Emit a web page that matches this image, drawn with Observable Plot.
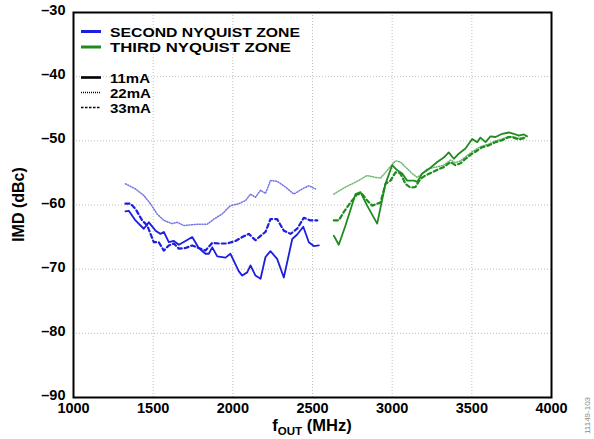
<!DOCTYPE html>
<html><head><meta charset="utf-8">
<script src="https://cdn.jsdelivr.net/npm/d3@7"></script>
<script src="https://cdn.jsdelivr.net/npm/@observablehq/plot@0.6"></script>
<style>
body{margin:0;background:#fff;}
#wrap{position:relative;width:594px;height:439px;}
</style></head><body><div id="wrap"></div>
<script>
// ---- data: [fOUT (MHz), IMD (dBc)] ----
const second11mA = [[1326,-61.0],[1347,-60.9],[1389,-62.4],[1441,-63.7],[1473,-62.7],[1515,-64.0],[1546,-64.5],[1567,-64.2],[1598,-65.8],[1630,-65.6],[1661,-66.2],[1703,-65.6],[1745,-65.0],[1786,-66.7],[1828,-67.6],[1849,-67.6],[1871,-66.6],[1902,-68.0],[1954,-68.2],[1985,-67.6],[2037,-70.3],[2059,-71.0],[2090,-70.5],[2111,-69.4],[2142,-71.0],[2174,-71.5],[2205,-68.1],[2236,-67.2],[2278,-68.4],[2320,-71.3],[2373,-65.3],[2404,-64.6],[2442,-63.4],[2477,-65.8],[2508,-66.4],[2540,-66.3]];
const second22mA = [[1326,-56.7],[1389,-57.5],[1441,-58.5],[1483,-59.8],[1525,-61.4],[1567,-62.4],[1619,-62.9],[1651,-62.7],[1692,-63.2],[1776,-63.0],[1839,-63.0],[1881,-62.2],[1933,-61.4],[1985,-60.1],[2037,-59.8],[2080,-59.3],[2111,-58.3],[2142,-58.8],[2174,-57.7],[2205,-58.2],[2236,-56.2],[2278,-56.3],[2331,-57.2],[2383,-58.3],[2435,-57.5],[2477,-57.0],[2519,-57.5]];
const second33mA = [[1326,-59.8],[1358,-59.8],[1389,-60.6],[1431,-62.4],[1463,-63.2],[1504,-65.8],[1535,-65.8],[1567,-67.1],[1598,-66.3],[1630,-66.0],[1661,-66.8],[1703,-66.7],[1745,-66.3],[1786,-66.7],[1828,-67.1],[1871,-65.9],[1912,-66.0],[1965,-66.0],[2017,-65.6],[2059,-65.0],[2100,-64.5],[2142,-65.5],[2174,-64.8],[2205,-64.2],[2236,-62.2],[2278,-62.2],[2320,-64.0],[2362,-64.5],[2404,-63.7],[2445,-62.0],[2487,-62.4],[2530,-62.4]];
const third11mA = [[2634,-64.8],[2665,-66.2],[2707,-63.2],[2770,-58.3],[2801,-58.0],[2843,-60.1],[2906,-62.9],[2958,-56.7],[3000,-53.8],[3032,-54.6],[3063,-55.1],[3094,-56.2],[3136,-56.2],[3157,-56.4],[3189,-55.1],[3230,-54.4],[3283,-53.3],[3324,-52.6],[3355,-51.8],[3387,-52.8],[3418,-52.0],[3460,-51.2],[3502,-49.7],[3534,-50.2],[3554,-49.5],[3586,-50.2],[3617,-49.3],[3649,-49.4],[3691,-48.9],[3732,-48.7],[3763,-48.9],[3795,-49.2],[3826,-49.0],[3847,-49.3]];
const third22mA = [[2634,-58.3],[2707,-57.2],[2749,-56.7],[2789,-56.2],[2843,-55.4],[2895,-55.7],[2927,-55.8],[2969,-54.6],[3021,-53.1],[3052,-53.3],[3084,-54.1],[3126,-55.1],[3157,-55.7],[3189,-55.1],[3220,-54.4],[3272,-54.1],[3324,-53.8],[3366,-53.0],[3397,-53.4],[3429,-53.1],[3460,-52.5],[3502,-51.7],[3534,-51.2],[3565,-50.8],[3607,-50.5],[3649,-50.0],[3691,-49.7],[3732,-49.3],[3763,-49.4],[3795,-49.6],[3837,-49.4]];
const third33mA = [[2634,-62.4],[2665,-62.4],[2696,-61.1],[2739,-59.6],[2781,-58.3],[2812,-58.3],[2843,-59.3],[2875,-60.1],[2927,-59.6],[2958,-56.7],[2990,-56.2],[3021,-54.9],[3052,-55.1],[3084,-56.7],[3115,-57.3],[3146,-57.2],[3178,-55.9],[3209,-55.4],[3251,-54.9],[3293,-54.4],[3324,-54.1],[3366,-53.3],[3397,-53.8],[3429,-53.5],[3460,-52.8],[3502,-52.0],[3534,-51.5],[3565,-51.0],[3607,-50.7],[3649,-50.2],[3691,-49.9],[3732,-49.4],[3763,-49.5],[3795,-49.8],[3837,-49.5]];

const xTicks = [1000,1500,2000,2500,3000,3500,4000];
const yTicks = [-90,-80,-70,-60,-50,-40,-30];
const zoneLabels = ["SECOND NYQUIST ZONE","THIRD NYQUIST ZONE"];
const currentLabels = ["11mA","22mA","33mA"];

const BLUE = "#1e1ee0", GREEN = "#1e8c1e";
const BLUE_LIGHT = "#7272e6", GREEN_LIGHT = "#6cb86c";
const FONT = "Liberation Sans, Arial, Helvetica, sans-serif";
const fmt = d => d < 0 ? "\u2013" + Math.abs(d) : String(d);

const styleSolid = {strokeWidth: 1.8};
const styleDot = {strokeWidth: 1.5, strokeDasharray: "1,1.6"};
const styleDash = {strokeWidth: 2.2, strokeDasharray: "4,3"};

const ln = (data, stroke, st) => Plot.line(data, {x: d => d[0], y: d => d[1], stroke, strokeLinejoin: "round", ...st});

const plot = Plot.plot({
  width: 594, height: 439,
  marginLeft: 73, marginRight: 43, marginTop: 12, marginBottom: 42,
  style: {fontFamily: FONT, fontSize: "14px", fontWeight: "bold", background: "white", color: "black"},
  x: {domain: [1000, 4000]},
  y: {domain: [-90, -30]},
  marks: [
    Plot.gridX(xTicks.slice(1, -1), {stroke: "#bdbdbd", strokeOpacity: 1, strokeDasharray: "1,2"}),
    Plot.gridY(yTicks.slice(1, -1), {stroke: "#bdbdbd", strokeOpacity: 1, strokeDasharray: "1,2"}),
    ln(second22mA, BLUE_LIGHT, styleDot),
    ln(second33mA, BLUE, styleDash),
    ln(second11mA, BLUE, styleSolid),
    ln(third22mA, GREEN_LIGHT, styleDot),
    ln(third33mA, GREEN, styleDash),
    ln(third11mA, GREEN, styleSolid),
    Plot.frame({stroke: "black", strokeWidth: 2}),
    Plot.axisX(xTicks, {tickSize: 0, tickPadding: 5, fontSize: 14.5, fontWeight: "bold", label: null, tickFormat: d => String(d)}),
    Plot.axisY(yTicks, {tickSize: 0, tickPadding: 8, fontSize: 14.5, fontWeight: "bold", label: null, tickFormat: fmt, dy: -2})
  ]
});

document.getElementById("wrap").appendChild(plot);
const svg = d3.select(plot);
const sx = plot.scale("x"), sy = plot.scale("y");

// axis titles
const xt = svg.append("text").attr("x", sx.apply(2500)).attr("y", 431)
  .attr("text-anchor", "middle").attr("font-family", FONT).attr("font-weight", "bold").attr("font-size", 16.5).attr("fill", "black");
xt.append("tspan").text("f");
xt.append("tspan").attr("font-size", 11.5).attr("dy", 3.5).text("OUT");
xt.append("tspan").attr("dy", -3.5).text(" (MHz)");

svg.append("text").attr("transform", `translate(24,${(sy.apply(-30) + sy.apply(-90)) / 2}) rotate(-90)`)
  .attr("text-anchor", "middle").attr("font-family", FONT).attr("font-weight", "bold").attr("font-size", 16).attr("fill", "black")
  .text("IMD (dBc)");

// legend (text widths stretched to the reference's wide lettering)
const legend = [
  {label: zoneLabels[0], stroke: BLUE, w: 3, dash: null, y: 31.5, fs: 13.5, len: 190},
  {label: zoneLabels[1], stroke: GREEN, w: 3, dash: null, y: 47, fs: 13.5, len: 181},
  {label: currentLabels[0], stroke: "black", w: 2.6, dash: null, y: 77.5, fs: 13, len: 40},
  {label: currentLabels[1], stroke: "black", w: 1.3, dash: "1,1", y: 92.5, fs: 13, len: 41},
  {label: currentLabels[2], stroke: "black", w: 1.3, dash: "2.5,1.5", y: 107.5, fs: 13, len: 41}
];
const lg = svg.append("g").attr("text-anchor", "start");
legend.forEach(e => {
  const l = lg.append("line").attr("x1", 81).attr("x2", 101).attr("y1", e.y).attr("y2", e.y)
    .attr("stroke", e.stroke).attr("stroke-width", e.w);
  if (e.dash) l.attr("stroke-dasharray", e.dash);
  lg.append("text").attr("x", 110).attr("y", e.y + 5).attr("text-anchor", "start").attr("font-family", FONT).attr("font-weight", "bold")
    .attr("font-size", e.fs).attr("fill", "black").attr("textLength", e.len).attr("lengthAdjust", "spacingAndGlyphs").text(e.label);
});

// figure number
svg.append("text").attr("transform", "translate(590,434) rotate(-90)").attr("text-anchor", "start")
  .attr("font-family", FONT).attr("font-weight", "normal").attr("font-size", 8).attr("fill", "#8a8a8a").text("11149-103");
</script></body></html>
